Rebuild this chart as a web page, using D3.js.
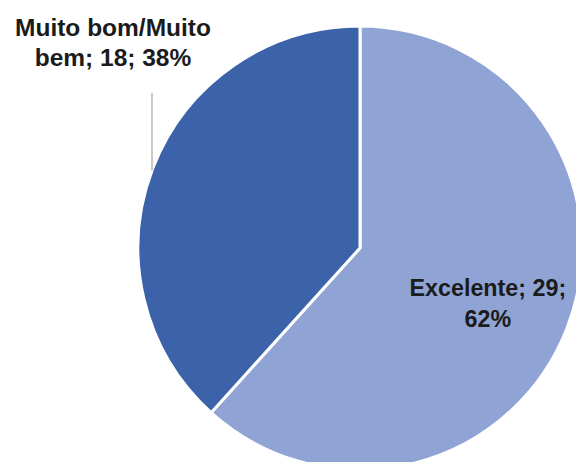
<!DOCTYPE html>
<html>
<head>
<meta charset="utf-8">
<script src="https://cdn.jsdelivr.net/npm/d3@7"></script>
<style>
  body { margin: 0; background: #fff; }
  svg { display: block; }
</style>
</head>
<body>
<svg></svg>
<script>
const categories = ["Excelente", "Muito bom/Muito bem"];
const values = [29, 18];
const percents = ["62%", "38%"];
const colors = ["#8FA4D4", "#3C63A9"];

const width = 576;
const height = 462;
const cx = 360, cy = 248, radius = 222;

const svg = d3.select("svg")
	.attr("width", width)
	.attr("height", height);

const pie = d3.pie().sort(null).value(d => d);
const arcs = pie(values);
const arc = d3.arc().innerRadius(0).outerRadius(radius);

const g = svg.append("g").attr("transform", `translate(${cx},${cy})`);

g.selectAll("path")
	.data(arcs)
	.enter().append("path")
	.attr("d", arc)
	.attr("fill", (d, i) => colors[i])
	.attr("stroke", "#fff")
	.attr("stroke-width", 3)
	.attr("stroke-linejoin", "miter");

const font = "'Liberation Sans', Arial, sans-serif";

// Excelente label inside the slice
const inArc = d3.arc().innerRadius(137).outerRadius(137);
const c0 = inArc.centroid(arcs[0]);
const t0 = g.append("text")
	.attr("x", c0[0])
	.attr("y", c0[1])
	.attr("text-anchor", "middle")
	.attr("font-family", font)
	.attr("font-weight", "bold")
	.attr("font-size", 23.3)
	.attr("fill", "#1b1b1b");
t0.append("tspan").attr("x", c0[0]).attr("dy", -1).text(`${categories[0]}; ${values[0]};`);
t0.append("tspan").attr("x", c0[0]).attr("dy", 31).text(percents[0]);

// Muito bom label outside, with leader line
const lx = 152 - cx;
const ly = -Math.sqrt(radius * radius - lx * lx);
g.append("line")
	.attr("x1", lx).attr("x2", lx)
	.attr("y1", ly).attr("y2", 93 - cy)
	.attr("stroke", "#a6a6a6")
	.attr("stroke-width", 1.2);

const t1 = svg.append("text")
	.attr("x", 113)
	.attr("y", 36)
	.attr("text-anchor", "middle")
	.attr("font-family", font)
	.attr("font-weight", "bold")
	.attr("font-size", 24.5)
	.attr("fill", "#1b1b1b");
t1.append("tspan").attr("x", 113).attr("dy", 0).text("Muito bom/Muito");
t1.append("tspan").attr("x", 113).attr("dy", 30).text(`bem; ${values[1]}; ${percents[1]}`);
</script>
</body>
</html>
